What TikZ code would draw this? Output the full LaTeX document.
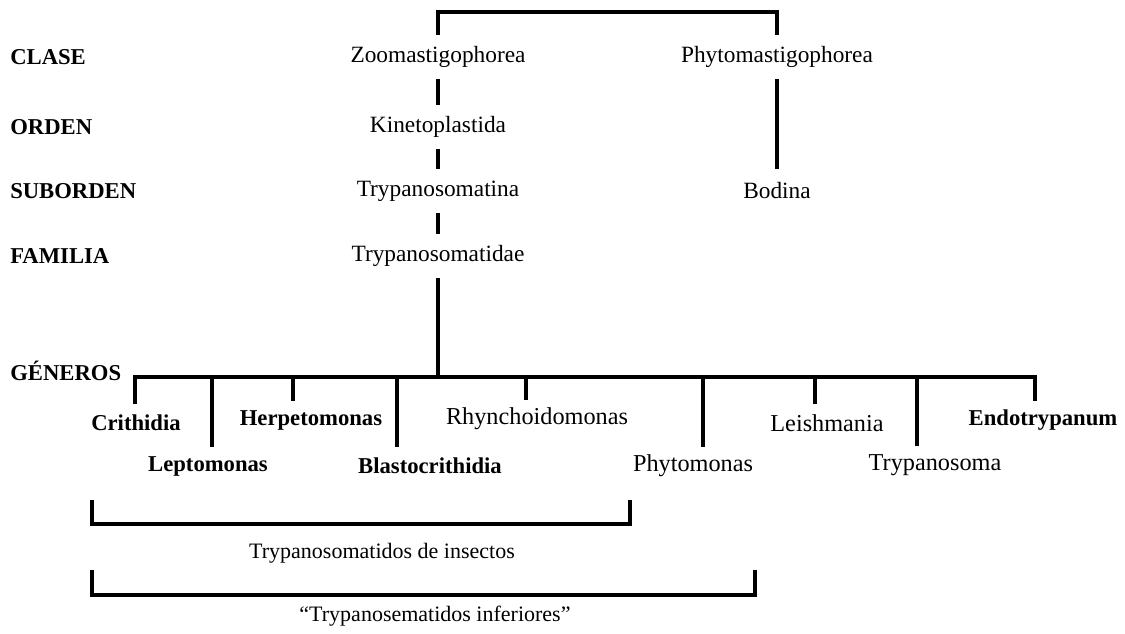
\documentclass[tikz,border=0pt]{standalone}
\usepackage{fontspec}
\setmainfont{Liberation Serif}
\begin{document}
\begin{tikzpicture}[x=0.75pt,y=-0.75pt,
  ln/.style={line width=3pt},
  rank/.style={font=\bfseries\fontsize{17}{20}\selectfont, anchor=west, inner sep=0pt},
  hi/.style={font=\fontsize{17.5}{20}\selectfont, inner sep=0pt, minimum height=33pt},
  tax/.style={font=\fontsize{18.2}{20}\selectfont, inner sep=0pt, minimum height=28.5pt},
  taxb/.style={tax, font=\bfseries\fontsize{17}{20}\selectfont},
  grp/.style={font=\fontsize{16.5}{19}\selectfont, inner sep=0pt}
]
\useasboundingbox (0,0) rectangle (1125,634);

% rank labels
\node[rank] (clase) at (10,57) {CLASE};
\node[rank] (orden) at (10,127) {ORDEN};
\node[rank] (subo) at (10,191) {SUBORDEN};
\node[rank] (fami) at (10,256) {FAMILIA};
\node[rank] (gene) at (10,371) {GÉNEROS};

% upper taxa
\node[hi] (zoo) at (438,57) {Zoomastigophorea};
\node[hi] (phy) at (777,57) {Phytomastigophorea};
\node[hi] (kin) at (438,127) {Kinetoplastida};
\node[hi] (tna) at (438,191) {Trypanosomatina};
\node[hi] (bod) at (777,191) {Bodina};
\node[hi] (tdae) at (438,256) {Trypanosomatidae};

\coordinate (topY) at (0,12);
\draw[ln] (zoo.north) |- (phy.north |- topY) -- (phy.north);
\draw[ln] (zoo.south) -- (kin.north);
\draw[ln] (kin.south) -- (tna.north);
\draw[ln] (tna.south) -- (tdae.north);
\draw[ln] (phy.south) -- (bod.north);

% genera
\node[taxb] (crit) at (136,423) {Crithidia};
\node[taxb] (herp) at (311,420) {Herpetomonas};
\node[tax]  (rhyn) at (537,419) {Rhynchoidomonas};
\node[tax]  (leis) at (827,423) {Leishmania};
\node[taxb] (endo) at (1043,420) {Endotrypanum};
\node[taxb] (lept) at (208,466) {Leptomonas};
\node[taxb] (blas) at (430,466) {Blastocrithidia};
\node[tax]  (phyt) at (693,466) {Phytomonas};
\node[tax]  (tryp) at (935,465) {Trypanosoma};

\coordinate (barY) at (0,377);
\coordinate (d1) at (135,377);
\coordinate (d2) at (212,377);
\coordinate (d3) at (293,377);
\coordinate (d4) at (397,377);
\coordinate (d5) at (526,377);
\coordinate (d6) at (703,377);
\coordinate (d7) at (815,377);
\coordinate (d8) at (917,377);
\coordinate (d9) at (1035,377);

\draw[ln] (crit.north -| d1) |- (d9) -- (endo.north -| d9);
\draw[ln] (tdae.south) -- (tdae.south |- barY);
\draw[ln] (d2) -- (lept.north -| d2);
\draw[ln] (d3) -- (herp.north -| d3);
\draw[ln] (d4) -- (blas.north -| d4);
\draw[ln] (d5) -- (rhyn.north -| d5);
\draw[ln] (d6) -- (phyt.north -| d6);
\draw[ln] (d7) -- (leis.north -| d7);
\draw[ln] (d8) -- (tryp.north -| d8);

% group brackets
\coordinate (b1L) at (92,500);
\coordinate (b1R) at (630,500);
\coordinate (b1Y) at (0,524);
\coordinate (b2L) at (92,570);
\coordinate (b2R) at (755,570);
\coordinate (b2Y) at (0,595);
\draw[ln] (b1L) |- (b1R |- b1Y) -- (b1R);
\draw[ln] (b2L) |- (b2R |- b2Y) -- (b2R);
\node[grp] (ins) at (382,553) {Trypanosomatidos de insectos};
\node[grp] (inf) at (435,616) {“Trypanosematidos inferiores”};
\end{tikzpicture}
\end{document}
